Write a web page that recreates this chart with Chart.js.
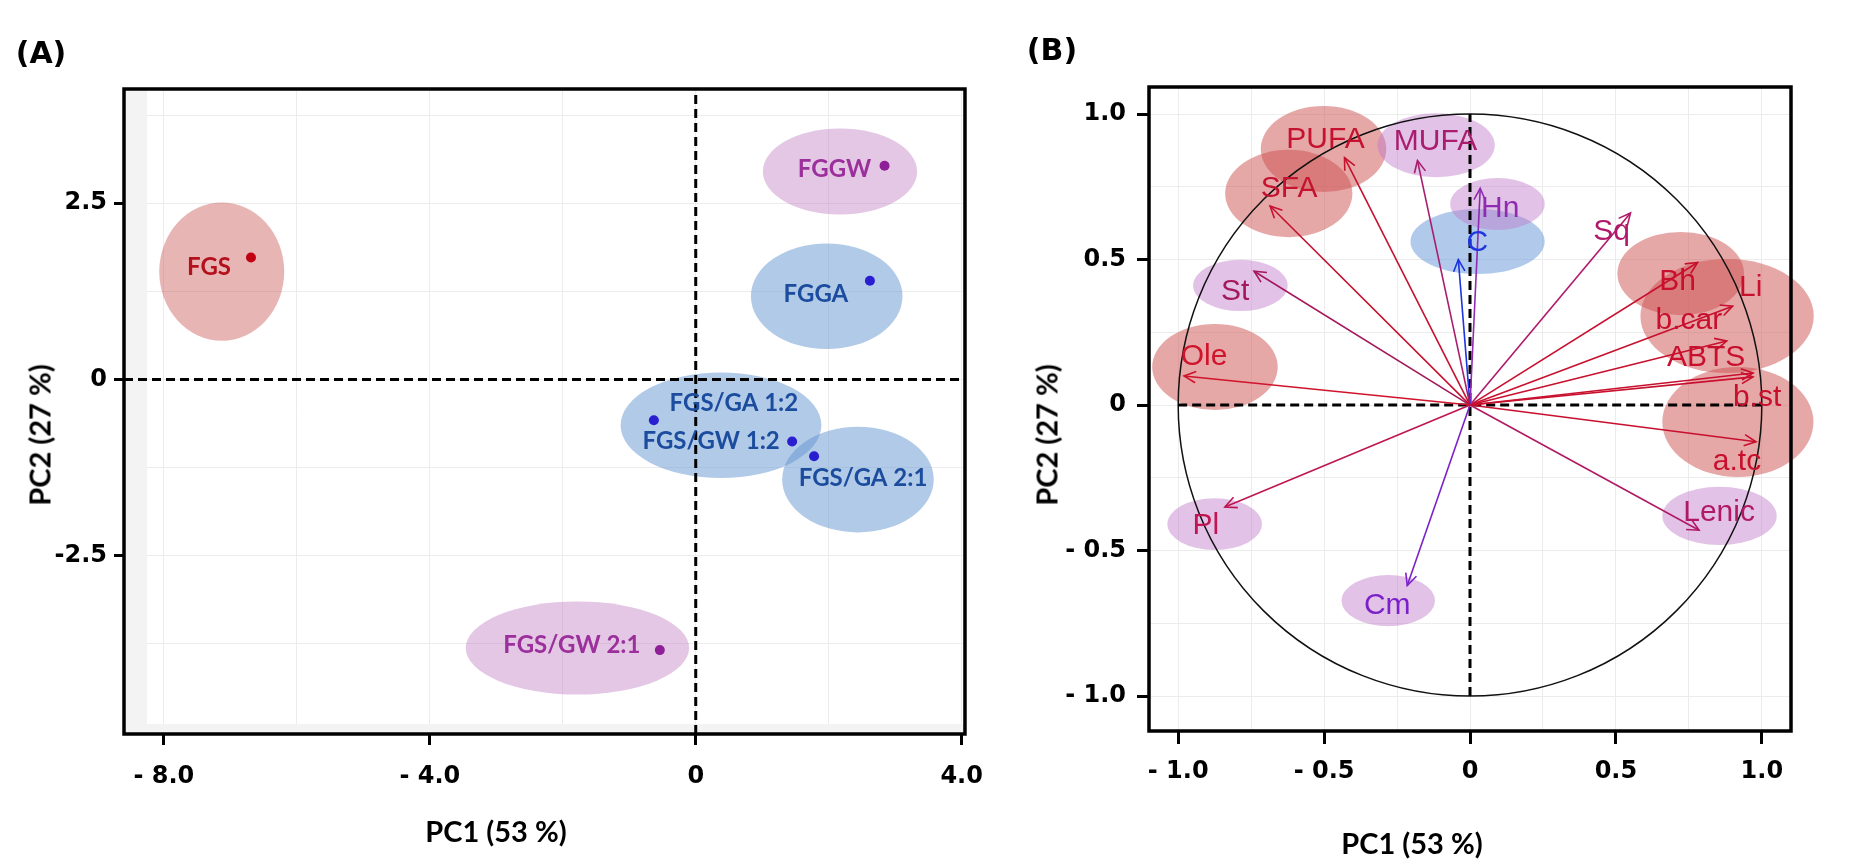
<!DOCTYPE html>
<html>
<head>
<meta charset="utf-8">
<script src="https://cdn.jsdelivr.net/npm/chart.js@4.4.1/dist/chart.umd.min.js"></script>
<style>
  body { margin: 0; background: #fff; width: 1851px; height: 866px; overflow: hidden; position: relative; }
  canvas { position: absolute; top: 0; }
  #chartA { left: 0; }
  #chartB { left: 1000px; }
  .panel { position: absolute; font-family: 'DejaVu Sans'; font-weight: bold; font-size: 30px; transform: translate(-50%, -50%); white-space: nowrap; }
  .ttl { position: absolute; font-family: Lato; font-weight: bold; font-size: 29px; transform: translate(-50%, -50%); white-space: nowrap; }
  .ttl.rot { transform: translate(-50%, -50%) rotate(-90deg); }
</style>
</head>
<body>
<canvas id="chartA" width="1000" height="866"></canvas>
<canvas id="chartB" width="851" height="866"></canvas>
<div class="panel" style="left:41px; top:52px">(A)</div>
<div class="panel" style="left:1052px; top:49px">(B)</div>
<div class="ttl" style="left:496px; top:830px">PC1 (53 %)</div>
<div class="ttl rot" style="left:39px; top:435px">PC2 (27 %)</div>
<div class="ttl" style="left:1412px; top:842px">PC1 (53 %)</div>
<div class="ttl rot" style="left:1046px; top:435px">PC2 (27 %)</div>
<script>
// ---- panel A: sample scores ----
const samples = ['FGS', 'FGGW', 'FGGA', 'FGS/GA 1:2', 'FGS/GW 1:2', 'FGS/GA 2:1', 'FGS/GW 2:1'];
const pc1 = [-6.69, 2.84, 2.62, -0.63, 1.45, 1.78, -0.54];
const pc2 = [1.73, 3.03, 1.40, -0.58, -0.88, -1.09, -3.84];
const sampleGroup = ['red', 'pink', 'blue', 'blue', 'blue', 'blue', 'pink'];

// group ellipses (PC units)
const ellA_x = [-7.13, 2.17, 1.97, 0.38, 2.44, -1.78];
const ellA_y = [1.53, 2.95, 1.18, -0.65, -1.42, -3.81];
const ellA_rx = [0.94, 1.16, 1.14, 1.51, 1.14, 1.68];
const ellA_ry = [0.98, 0.61, 0.75, 0.75, 0.75, 0.66];
const ellA_group = ['red', 'pink', 'blue', 'blue', 'blue', 'pink'];

const xTicksA = [-8, -4, 0, 4];
const xTickLabelsA = ['- 8.0', '- 4.0', '0', '4.0'];
const yTicksA = [2.5, 0, -2.5];
const yTickLabelsA = ['2.5', '0', '-2.5'];
const xGridA = [-8, -6, -4, -2, 0, 2, 4];
const yGridA = [3.75, 2.5, 1.25, 0, -1.25, -2.5, -3.75];
const xMinA = -8.6, xMaxA = 4.05, yMinA = -5.03, yMaxA = 4.12;

// ---- panel B: variable loadings ----
const vars = ['Ole', 'St', 'SFA', 'PUFA', 'MUFA', 'C', 'Hn', 'Sq', 'Bh', 'Li', 'b.car', 'ABTS', 'b.st', 'a.tc', 'Lenic', 'Pl', 'Cm'];
const loadX = [-0.98, -0.74, -0.685, -0.43, -0.18, -0.04, 0.035, 0.55, 0.78, 0.90, 0.88, 0.97, 0.97, 0.98, 0.785, -0.84, -0.215];
const loadY = [0.10, 0.46, 0.684, 0.85, 0.84, 0.50, 0.745, 0.66, 0.49, 0.34, 0.22, 0.11, 0.097, -0.126, -0.43, -0.35, -0.62];

const ellB_x = [-0.502, -0.116, -0.621, -0.787, -0.874, 0.026, 0.094, 0.722, 0.881, 0.918, 0.855, -0.875, -0.28];
const ellB_y = [0.880, 0.893, 0.727, 0.411, 0.131, 0.562, 0.691, 0.452, 0.306, -0.058, -0.381, -0.409, -0.672];
const ellB_rx = [0.215, 0.201, 0.218, 0.162, 0.215, 0.23, 0.162, 0.217, 0.297, 0.259, 0.196, 0.162, 0.16];
const ellB_ry = [0.148, 0.11, 0.15, 0.088, 0.148, 0.112, 0.089, 0.143, 0.196, 0.189, 0.10, 0.089, 0.088];
const ellB_group = ['red', 'pink', 'red', 'pink', 'red', 'blue', 'pink', 'red', 'red', 'red', 'pink', 'pink', 'pink'];

const xTicksB = [-1, -0.5, 0, 0.5, 1];
const xTickLabelsB = ['- 1.0', '- 0.5', '0', '0.5', '1.0'];
const yTicksB = [1, 0.5, 0, -0.5, -1];
const yTickLabelsB = ['1.0', '0.5', '0', '- 0.5', '- 1.0'];
const gridB = [-1, -0.75, -0.5, -0.25, 0, 0.25, 0.5, 0.75, 1];
const xMinB = -1.1, xMaxB = 1.1, yMinB = -1.12, yMaxB = 1.093;

// ---- styles ----
const fillA = { red: 'rgba(205,90,90,0.45)', pink: 'rgba(195,130,195,0.45)', blue: 'rgba(100,150,210,0.5)' };
const fillB = { red: 'rgba(205,80,80,0.5)', pink: 'rgba(190,120,200,0.45)', blue: 'rgba(100,150,215,0.5)' };
const pointColA = { red: '#c00012', pink: '#8f1f96', blue: '#2a1fd0' };
const textColA = { red: '#b3111e', pink: '#9b2f9b', blue: '#1b4c9e' };
const labelOffA = [[-42, 10], [-50, 3], [-54, 14], [80, -17], [-81, 0], [49, 22], [-88, -5]];
const varColor = {
  'Ole': '#d0142c', 'St': '#a3195b', 'SFA': '#c4122f', 'PUFA': '#c4122f', 'MUFA': '#a81d6e',
  'C': '#1d35e0', 'Hn': '#8e2bb0', 'Sq': '#b0196a', 'Bh': '#c8102e', 'Li': '#c8102e',
  'b.car': '#c8102e', 'ABTS': '#c8102e', 'b.st': '#c8102e', 'a.tc': '#c8102e',
  'Lenic': '#b01a64', 'Pl': '#c0164f', 'Cm': '#7a22c8'
};
const labelOffB = [[20, -19], [-19, 21], [19, -17], [-19, -18], [18, -19], [19, -17], [20, 20], [-19, 19],
  [-20, 19], [18, -18], [-38, -20], [-47, -15], [4, 21], [-19, 20], [20, -17], [-19, 19], [-20, 20]];

const axisFont = { family: 'DejaVu Sans', weight: 'bold', size: 24 };

function makeScale(o) {
  return {
    type: 'linear',
    min: o.min, max: o.max,
    afterBuildTicks: s => { s.ticks = o.grid.map(v => ({ value: v })); },
    afterFit: s => { if (o.horizontal) s.height = o.size; else s.width = o.size; },
    border: { display: false },
    grid: {
      color: '#ececec', lineWidth: 1, drawTicks: true, tickLength: o.tickLength, tickWidth: 3,
      tickColor: c => (c.tick && o.ticks.includes(c.tick.value)) ? '#000' : 'rgba(0,0,0,0)'
    },
    ticks: {
      autoSkip: false, maxRotation: 0, minRotation: 0, padding: o.padding, color: '#000', font: axisFont,
      callback: v => { const i = o.ticks.indexOf(v); return i < 0 ? '' : o.labels[i]; }
    }
  };
}

function ellipses(ctx, x, y, cx, cy, rx, ry, fills) {
  cx.forEach((v, i) => {
    const px = x.getPixelForValue(v), py = y.getPixelForValue(cy[i]);
    const w = Math.abs(x.getPixelForValue(v + rx[i]) - px);
    const h = Math.abs(y.getPixelForValue(cy[i] + ry[i]) - py);
    ctx.beginPath();
    ctx.ellipse(px, py, w, h, 0, 0, Math.PI * 2);
    ctx.fillStyle = fills[i];
    ctx.fill();
  });
}

const frame = {
  id: 'frame',
  afterDraw(chart) {
    const { ctx, chartArea: a } = chart;
    ctx.save();
    ctx.strokeStyle = '#000';
    ctx.lineWidth = 3.5;
    ctx.strokeRect(a.left, a.top, a.right - a.left, a.bottom - a.top);
    ctx.restore();
  }
};

const dashed = { showLine: true, pointRadius: 0, borderColor: '#000', borderWidth: 3, borderDash: [9, 5] };

// ---- chart A ----
new Chart(document.getElementById('chartA'), {
  type: 'scatter',
  data: {
    datasets: [
      {
        data: pc1.map((v, i) => ({ x: v, y: pc2[i] })),
        pointRadius: 5, pointBorderWidth: 0,
        pointBackgroundColor: sampleGroup.map(g => pointColA[g])
      },
      Object.assign({ data: [{ x: xMinA, y: 0 }, { x: xMaxA, y: 0 }] }, dashed),
      Object.assign({ data: [{ x: 0, y: yMinA }, { x: 0, y: yMaxA }] }, dashed)
    ]
  },
  options: {
    responsive: false, animation: false, devicePixelRatio: 1,
    layout: { padding: { left: 0, top: 89, right: 22, bottom: 0 } },
    plugins: { legend: { display: false }, tooltip: { enabled: false } },
    scales: {
      x: makeScale({ min: xMinA, max: xMaxA, grid: xGridA, ticks: xTicksA, labels: xTickLabelsA, horizontal: true, size: 132, tickLength: 11, padding: 17 }),
      y: makeScale({ min: yMinA, max: yMaxA, grid: yGridA, ticks: yTicksA, labels: yTickLabelsA, horizontal: false, size: 124, tickLength: 10, padding: 7 })
    }
  },
  plugins: [frame, {
    id: 'groupsA',
    beforeDatasetsDraw(chart) {
      const { ctx, chartArea: a, scales: { x, y } } = chart;
      ctx.save();
      ctx.fillStyle = '#f3f3f3';
      ctx.fillRect(a.left, a.top, 23, a.bottom - a.top);
      ctx.fillRect(a.left, a.bottom - 10, a.right - a.left, 10);
      ellipses(ctx, x, y, ellA_x, ellA_y, ellA_rx, ellA_ry, ellA_group.map(g => fillA[g]));
      ctx.restore();
    },
    afterDatasetsDraw(chart) {
      const { ctx, scales: { x, y } } = chart;
      ctx.save();
      ctx.font = 'bold 24px Lato';
      ctx.textAlign = 'center';
      ctx.textBaseline = 'middle';
      samples.forEach((s, i) => {
        ctx.fillStyle = textColA[sampleGroup[i]];
        ctx.fillText(s, x.getPixelForValue(pc1[i]) + labelOffA[i][0], y.getPixelForValue(pc2[i]) + labelOffA[i][1]);
      });
      ctx.restore();
    }
  }]
});

// ---- chart B ----
const arrowSets = vars.map((v, i) => ({
  data: [{ x: 0, y: 0 }, { x: loadX[i], y: loadY[i] }],
  showLine: true, pointRadius: 0, borderWidth: 1.6, borderColor: varColor[v]
}));

new Chart(document.getElementById('chartB'), {
  type: 'scatter',
  data: {
    datasets: arrowSets.concat([
      Object.assign({ data: [{ x: -1, y: 0 }, { x: 1, y: 0 }] }, dashed),
      Object.assign({ data: [{ x: 0, y: -1 }, { x: 0, y: 1 }] }, dashed)
    ])
  },
  options: {
    responsive: false, animation: false, devicePixelRatio: 1,
    layout: { padding: { left: 0, top: 87, right: 60, bottom: 0 } },
    plugins: { legend: { display: false }, tooltip: { enabled: false } },
    scales: {
      x: makeScale({ min: xMinB, max: xMaxB, grid: gridB, ticks: xTicksB, labels: xTickLabelsB, horizontal: true, size: 135, tickLength: 13, padding: 13 }),
      y: makeScale({ min: yMinB, max: yMaxB, grid: gridB, ticks: yTicksB, labels: yTickLabelsB, horizontal: false, size: 149, tickLength: 12, padding: 11 })
    }
  },
  plugins: [frame, {
    id: 'loadingsB',
    beforeDatasetsDraw(chart) {
      const { ctx, scales: { x, y } } = chart;
      ctx.save();
      ellipses(ctx, x, y, ellB_x, ellB_y, ellB_rx, ellB_ry, ellB_group.map(g => fillB[g]));
      // correlation circle
      const cx = x.getPixelForValue(0), cy = y.getPixelForValue(0);
      ctx.beginPath();
      ctx.ellipse(cx, cy, x.getPixelForValue(1) - cx, cy - y.getPixelForValue(1), 0, 0, Math.PI * 2);
      ctx.strokeStyle = '#111';
      ctx.lineWidth = 1.5;
      ctx.stroke();
      ctx.restore();
    },
    afterDatasetsDraw(chart) {
      const { ctx, scales: { x, y } } = chart;
      ctx.save();
      const ox = x.getPixelForValue(0), oy = y.getPixelForValue(0);
      ctx.lineWidth = 1.6;
      vars.forEach((v, i) => {
        const tx = x.getPixelForValue(loadX[i]), ty = y.getPixelForValue(loadY[i]);
        const ang = Math.atan2(ty - oy, tx - ox);
        ctx.strokeStyle = varColor[v];
        ctx.beginPath();
        ctx.moveTo(tx - 13 * Math.cos(ang - 0.45), ty - 13 * Math.sin(ang - 0.45));
        ctx.lineTo(tx, ty);
        ctx.lineTo(tx - 13 * Math.cos(ang + 0.45), ty - 13 * Math.sin(ang + 0.45));
        ctx.stroke();
      });
      ctx.font = '30px "Liberation Sans"';
      ctx.textAlign = 'center';
      ctx.textBaseline = 'middle';
      vars.forEach((v, i) => {
        ctx.fillStyle = varColor[v];
        ctx.fillText(v, x.getPixelForValue(loadX[i]) + labelOffB[i][0], y.getPixelForValue(loadY[i]) + labelOffB[i][1]);
      });
      ctx.restore();
    }
  }]
});
</script>
</body>
</html>
